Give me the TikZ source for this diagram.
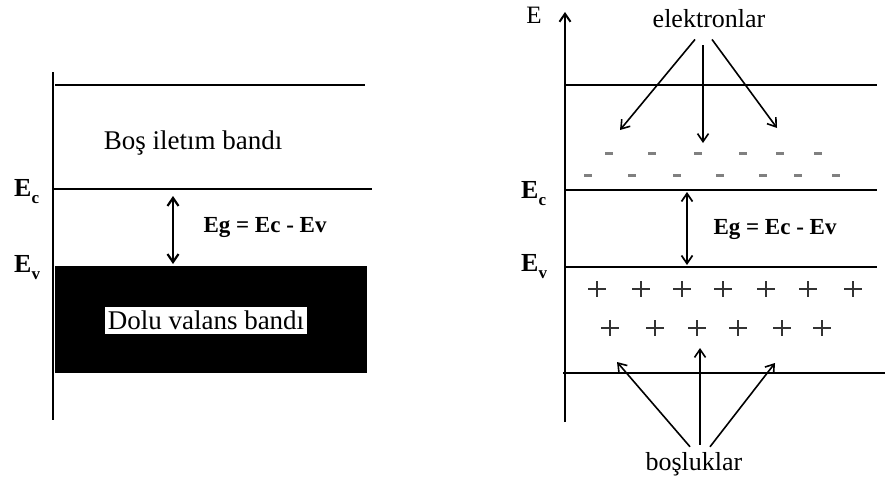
\documentclass[tikz,border=0pt]{standalone}
\usepackage{fontspec}
\setmainfont{Liberation Serif}
\usetikzlibrary{arrows.meta}
\newcommand{\lvl}[1]{\textbf{E}\raisebox{-7pt}{\bfseries\fontsize{17}{17}\selectfont #1}}
\begin{document}
\begin{tikzpicture}[x=1pt, y=-1pt, >={Straight Barb[length=8pt,width=11pt]},
  band/.style={line width=2.3pt},
  axis/.style={line width=2pt},
  level/.style={font=\fontsize{26}{28}\selectfont, anchor=base west, inner sep=0pt},
  label/.style={font=\fontsize{27}{30}\selectfont, inner sep=0pt},
  gap/.style={font=\bfseries\fontsize{23}{26}\selectfont, inner sep=0pt},
  pointer/.style={->, line width=1.6pt},
  gaparrow/.style={<->, line width=2.2pt}]
\useasboundingbox (0,0) rectangle (890,487);
% insulator
\draw[axis] (53,72) -- (53,420);
\draw[band] (55,85) -- (365,85);
\draw[band] (53,189) -- (372,189);
\fill (55,266) rectangle (367,373);
\node[label] (cb1) at (193,143) {Boş iletım bandı};
\node[label, fill=white, inner xsep=3pt, inner ysep=4pt] (vb1) at (206,320) {Dolu valans bandı};
\node[level] (ec1) at (14,196) {\lvl{c}};
\node[level] (ev1) at (14,272) {\lvl{v}};
\coordinate (gc1) at (173,196);
\coordinate (gv1) at (173,264);
\draw[gaparrow] (gc1) -- (gv1);
\node[gap] (eg1) at (265,228) {Eg = Ec - Ev};
% semiconductor
\draw[axis, ->] (565,422) -- (565,12);
\node[font=\fontsize{25}{28}\selectfont, anchor=base, inner sep=0pt] (eaxis) at (534,24) {E};
\draw[band] (565,85) -- (877,85);
\draw[band] (565,190) -- (877,190);
\draw[band] (565,267) -- (877,267);
\draw[band] (563,373) -- (885,373);
\node[level] (ec2) at (521,198) {\lvl{c}};
\node[level] (ev2) at (521,271) {\lvl{v}};
\coordinate (gc2) at (687,192);
\coordinate (gv2) at (687,265);
\draw[gaparrow, line width=1.7pt] (gc2) -- (gv2);
\node[gap] (eg2) at (775,230) {Eg = Ec - Ev};
\foreach \x in {609,652,698,743,780,818}
  \draw[gray, line width=3pt] (\x-4,153) -- (\x+4,153);
\foreach \x in {588,632,677,720,763,798,836}
  \draw[gray, line width=3pt] (\x-4,175) -- (\x+4,175);
\foreach \x in {597,641,682,723,766,808,853}
  \draw[black!80, line width=1.7pt] (\x-9,289) -- (\x+9,289) (\x,281) -- (\x,297);
\foreach \x in {610,655,697,738,782,822}
  \draw[black!80, line width=1.7pt] (\x-9,328) -- (\x+9,328) (\x,320) -- (\x,336);
\node[label, font=\fontsize{26}{28}\selectfont, anchor=base] (elec) at (709,28) {elektronlar};
\node[label, font=\fontsize{26}{28}\selectfont, anchor=base] (hole) at (694,470) {boşluklar};
\coordinate (e1) at (620,130);
\coordinate (e2) at (703,143);
\coordinate (e3) at (777,128);
\coordinate (h1) at (617,362);
\coordinate (h2) at (700,348);
\coordinate (h3) at (775,363);
\draw[pointer] ([xshift=-14pt,yshift=-11pt]elec.south) -- (e1);
\draw[pointer] ([xshift=-6pt,yshift=-17pt]elec.south) -- (e2);
\draw[pointer] ([xshift=3pt,yshift=-11pt]elec.south) -- (e3);
\draw[pointer] ([xshift=-4pt,yshift=5pt]hole.north) -- (h1);
\draw[pointer] ([xshift=6pt,yshift=7pt]hole.north) -- (h2);
\draw[pointer] ([xshift=16pt,yshift=5pt]hole.north) -- (h3);
\end{tikzpicture}
\end{document}
